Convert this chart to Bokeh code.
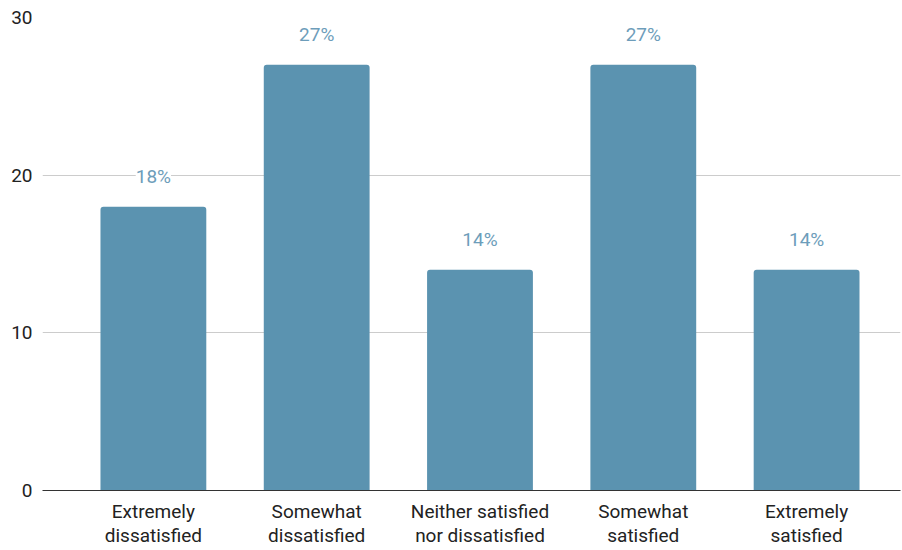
from bokeh.plotting import figure
from bokeh.models import ColumnDataSource, Range1d, FixedTicker, LabelSet
from bokeh.core.properties import value
from bokeh.embed import file_html
from bokeh.resources import INLINE

categories = ["Extremely\ndissatisfied", "Somewhat\ndissatisfied",
              "Neither satisfied\nnor dissatisfied", "Somewhat\nsatisfied",
              "Extremely\nsatisfied"]
values = [18, 27, 14, 27, 14]
value_labels = ["18%", "27%", "14%", "27%", "14%"]
y_ticks = [0, 10, 20, 30]

positions = list(range(len(categories)))
src = ColumnDataSource(dict(x=positions, top=values, text=value_labels))

BAR = "#5b93b0"
LBL = "#6d9dba"
FONT = "Roboto"

p = figure(width=902, height=550, output_backend="svg", toolbar_location=None,
           x_range=Range1d(-0.679, 4.575), y_range=Range1d(0, 30),
           min_border_top=17, min_border_left=42, min_border_right=2,
           min_border_bottom=56)

p.vbar(x="x", top="top", width=0.648, source=src, fill_color=BAR,
       line_color=None, border_radius=(3, 3, 0, 0))

labels = LabelSet(x="x", y="top", text="text", source=src, y_offset=30,
                  text_align="center", text_baseline="middle",
                  text_color=LBL, text_font=value(FONT), text_font_size="19px",
                  background_fill_color="white")
p.add_layout(labels)

p.outline_line_color = None
p.xgrid.grid_line_color = None
p.ygrid.grid_line_color = "#cccccc"
p.ygrid.grid_line_width = 1

p.yaxis.ticker = FixedTicker(ticks=y_ticks)
p.yaxis.axis_line_color = None
p.yaxis.major_tick_line_color = None
p.yaxis.minor_tick_line_color = None
p.yaxis.major_tick_out = 0
p.yaxis.major_tick_in = 0
p.yaxis.major_label_standoff = 10
p.yaxis.major_label_text_font = FONT
p.yaxis.major_label_text_font_size = "19px"
p.yaxis.major_label_text_color = "#222222"

p.xaxis.ticker = FixedTicker(ticks=positions)
p.xaxis.major_label_overrides = {i: c for i, c in enumerate(categories)}
p.xaxis.axis_line_color = "#333333"
p.xaxis.axis_line_width = 1
p.xaxis.major_tick_line_color = None
p.xaxis.minor_tick_line_color = None
p.xaxis.major_tick_out = 0
p.xaxis.major_tick_in = 0
p.xaxis.major_label_standoff = 9
p.xaxis.major_label_text_font = FONT
p.xaxis.major_label_text_font_size = "19px"
p.xaxis.major_label_text_color = "#222222"
p.xaxis.major_label_text_line_height = 1.08

open("out.html", "w").write(file_html(p, INLINE))
